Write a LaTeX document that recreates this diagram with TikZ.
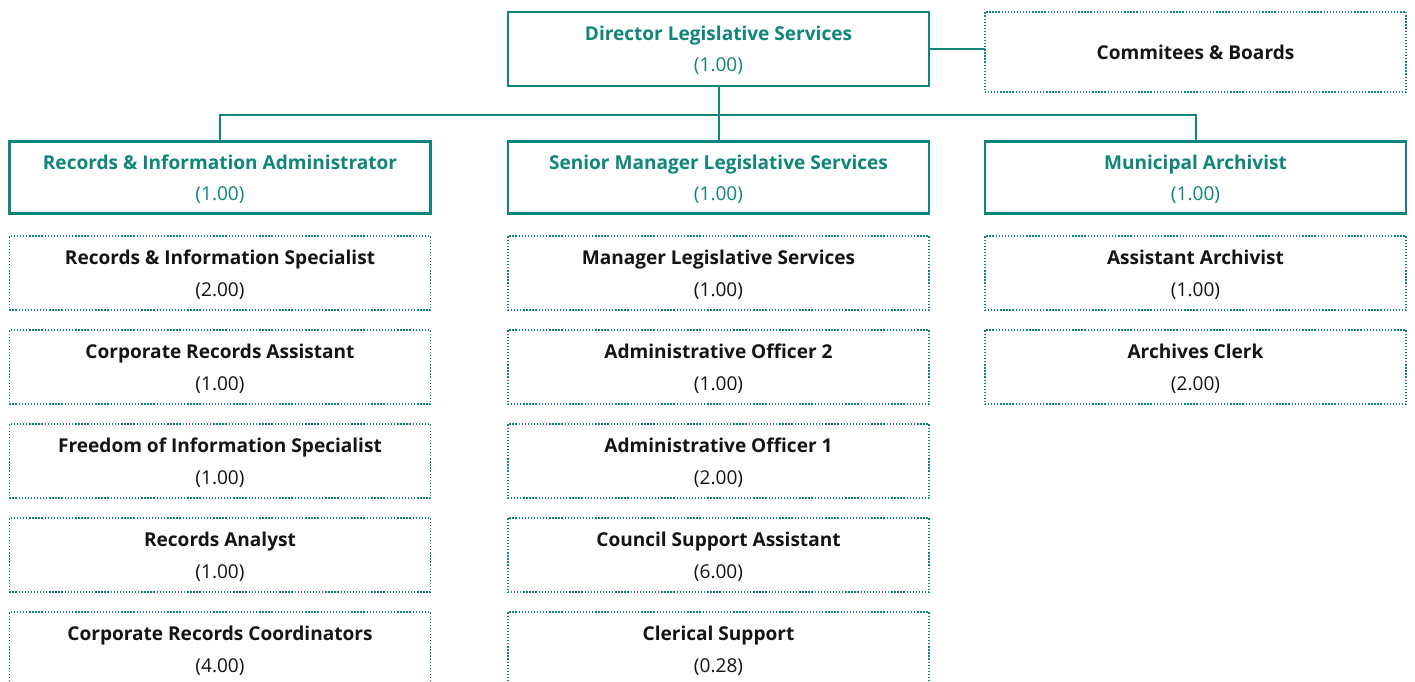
\documentclass[tikz,border=0pt]{standalone}
\usepackage{fontspec}
\setmainfont{Open Sans}
\usetikzlibrary{positioning}
\definecolor{teal}{RGB}{16,133,121}
\definecolor{ink}{RGB}{20,20,20}

\begin{document}
\begin{tikzpicture}[x=0.75pt, y=-0.75pt, node distance = 15pt, auto]
	\tikzstyle{head} = [rectangle, draw=teal, line width=1.8pt, outer sep=0pt, fill=white, text centered, align=center, text depth=0pt, minimum width=316pt, minimum height=54pt, text=teal, font=\fontsize{14.3}{23.5}\selectfont]
	\tikzstyle{staff} = [rectangle, draw=teal, line width=1.1pt, outer sep=0pt, dash pattern=on 1pt off 1.3pt, fill=white, text centered, align=center, text depth=0pt, minimum width=316pt, minimum height=55.5pt, text=ink, font=\fontsize{14.3}{23.5}\selectfont]
	\tikzstyle{line} = [draw=teal, line width=1.5pt]

	\useasboundingbox (0,0) rectangle (1415,682);

	    % Place nodes
	    \node [head, minimum height=55.5pt] (D) at (718.5,49) {\textbf{Director Legislative Services}\\(1.00)};
	    \node [staff, minimum height=60pt] (CB) at (1195.5,52) {\textbf{Commitees \& Boards}};
	    \node [head] (RA) at (220,177.5) {\textbf{Records \& Information Administrator}\\(1.00)};
	    \node [head] (SM) at (718.5,177.5) {\textbf{Senior Manager Legislative Services}\\(1.00)};
	    \node [head] (MA) at (1195.5,177.5) {\textbf{Municipal Archivist}\\(1.00)};

	    \node [staff, below=17pt of RA] (RA1) {\textbf{Records \& Information Specialist}\\(2.00)};
	    \node [staff, below=of RA1] (RA2) {\textbf{Corporate Records Assistant}\\(1.00)};
	    \node [staff, below=of RA2] (RA3) {\textbf{Freedom of Information Specialist}\\(1.00)};
	    \node [staff, below=of RA3] (RA4) {\textbf{Records Analyst}\\(1.00)};
	    \node [staff, below=of RA4] (RA5) {\textbf{Corporate Records Coordinators}\\(4.00)};

	    \node [staff, below=17pt of SM] (SM1) {\textbf{Manager Legislative Services}\\(1.00)};
	    \node [staff, below=of SM1] (SM2) {\textbf{Administrative Officer 2}\\(1.00)};
	    \node [staff, below=of SM2] (SM3) {\textbf{Administrative Officer 1}\\(2.00)};
	    \node [staff, below=of SM3] (SM4) {\textbf{Council Support Assistant}\\(6.00)};
	    \node [staff, below=of SM4] (SM5) {\textbf{Clerical Support}\\(0.28)};

	    \node [staff, below=17pt of MA] (MA1) {\textbf{Assistant Archivist}\\(1.00)};
	    \node [staff, below=of MA1] (MA2) {\textbf{Archives Clerk}\\(2.00)};

	    \coordinate (bus) at (718.5,115);

	    % Draw edges
	    \path [line] (D) -- (SM);
	    \path [line] (RA.north) |- (bus) -| (MA.north);
	    \path [line] (D.east) -- (D.east -| CB.west);

	\end{tikzpicture}
\end{document}
